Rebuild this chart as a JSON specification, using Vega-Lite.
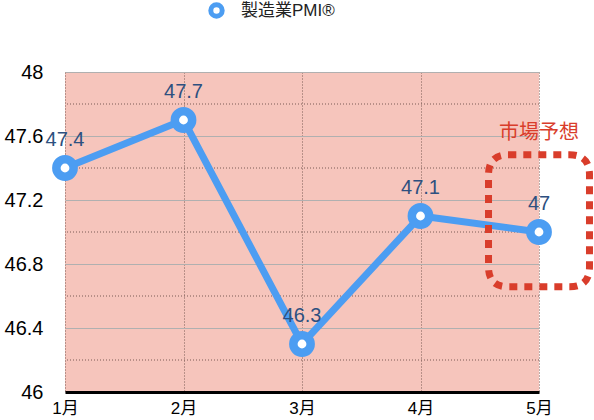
{
  "$schema": "https://vega.github.io/schema/vega-lite/v6.json",
  "width": 474,
  "height": 320,
  "autosize": {"type": "none"},
  "padding": {"left": 65, "top": 72, "right": 55, "bottom": 28},
  "background": "white",
  "config": {
    "view": {"fill": "#f6c5bc", "stroke": null},
    "font": "Liberation Sans, Noto Sans CJK JP"
  },
  "datasets": {
    "pmi": [
      {"month": "1月", "value": 47.4, "series": "製造業PMI®"},
      {"month": "2月", "value": 47.7, "series": "製造業PMI®"},
      {"month": "3月", "value": 46.3, "series": "製造業PMI®"},
      {"month": "4月", "value": 47.1, "series": "製造業PMI®"},
      {"month": "5月", "value": 47.0, "series": "製造業PMI®"}
    ],
    "minor": [{"value": 46.2}, {"value": 46.6}, {"value": 47.0}, {"value": 47.4}, {"value": 47.8}],
    "note": [{"month": "5月", "value": 47.07, "label": "市場予想"}]
  },
  "encoding": {
    "y": {
      "field": "value", "type": "quantitative",
      "scale": {"domain": [46, 48], "nice": false, "zero": false},
      "axis": {
        "title": null, "values": [46, 46.4, 46.8, 47.2, 47.6, 48], "format": "~g",
        "labelFontSize": 20, "labelColor": "black", "labelPadding": 22,
        "domain": false, "ticks": false, "grid": true, "gridColor": "#b0b0b0", "gridWidth": 1
      }
    }
  },
  "layer": [
    {
      "data": {"name": "minor"},
      "mark": {"type": "rule", "color": "#7a5a55", "strokeDash": [1, 2], "strokeWidth": 1}
    },
    {
      "data": {"name": "pmi"},
      "mark": {"type": "line", "strokeWidth": 7},
      "encoding": {
        "x": {
          "field": "month", "type": "ordinal", "sort": null,
          "scale": {"type": "point", "padding": 0},
          "axis": {
            "title": null, "labelAngle": 0, "labelFontSize": 17, "labelColor": "black",
            "labelPadding": 8, "ticks": false, "domainColor": "black", "domainWidth": 3,
            "grid": true, "gridDash": [1, 2], "gridColor": "#7a5a55", "gridWidth": 1
          }
        },
        "stroke": {
          "field": "series", "type": "nominal",
          "scale": {"range": ["#4c9df2"]},
          "legend": {
            "title": null, "orient": "none", "legendX": 143, "legendY": -70,
            "symbolType": "circle", "symbolFillColor": "white", "symbolStrokeWidth": 5,
            "symbolSize": 130, "labelFontSize": 17, "labelColor": "#222",
            "labelFont": "Liberation Sans, Noto Sans CJK JP", "labelOffset": 16
          }
        }
      }
    },
    {
      "data": {"name": "pmi"},
      "mark": {"type": "point", "filled": true, "fill": "white", "strokeWidth": 8.5, "size": 300, "opacity": 1},
      "encoding": {
        "x": {"field": "month", "type": "ordinal", "sort": null},
        "stroke": {"field": "series", "type": "nominal"}
      }
    },
    {
      "data": {"name": "pmi"},
      "mark": {"type": "text", "dy": -28, "fontSize": 20, "color": "#2d5080"},
      "encoding": {
        "x": {"field": "month", "type": "ordinal", "sort": null},
        "text": {"field": "value", "type": "quantitative", "format": "~g"}
      }
    },
    {
      "data": {"name": "note"},
      "mark": {
        "type": "point", "filled": false, "stroke": "#d93d2b", "strokeWidth": 7,
        "strokeDash": [8, 7], "size": 17424, "opacity": 1,
        "shape": "M -0.465,-1 L 0.465,-1 Q 0.765,-1 0.765,-0.7 L 0.765,0.7 Q 0.765,1 0.465,1 L -0.465,1 Q -0.765,1 -0.765,0.7 L -0.765,-0.7 Q -0.765,-1 -0.465,-1 Z"
      },
      "encoding": {
        "x": {"field": "month", "type": "ordinal", "sort": null}
      }
    },
    {
      "data": {"name": "note"},
      "mark": {"type": "text", "dy": -88, "fontSize": 20, "color": "#d93d2b", "font": "Noto Sans CJK JP"},
      "encoding": {
        "x": {"field": "month", "type": "ordinal", "sort": null},
        "text": {"field": "label"}
      }
    }
  ]
}
